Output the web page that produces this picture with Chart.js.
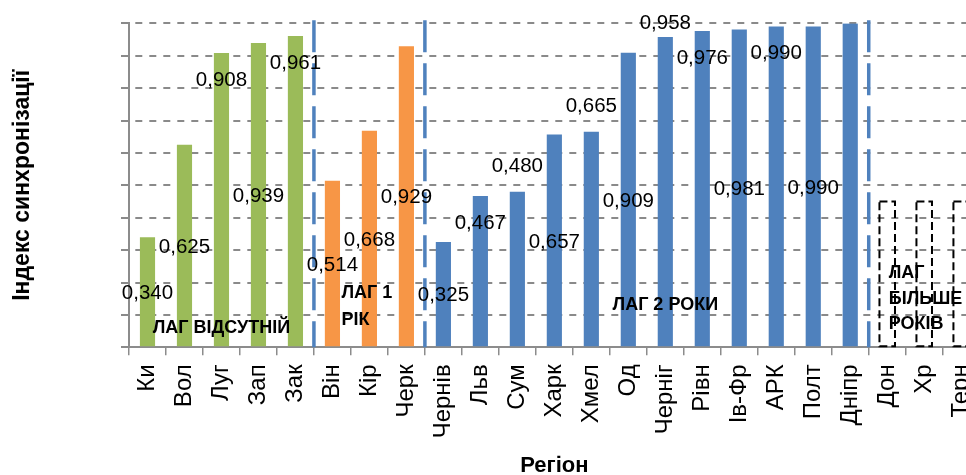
<!DOCTYPE html>
<html lang="uk">
<head>
<meta charset="utf-8">
<script src="https://cdn.jsdelivr.net/npm/chart.js@4.4.1/dist/chart.umd.min.js"></script>
<style>
  html, body { margin: 0; padding: 0; background: #fff; overflow: hidden; }
  #wrap { width: 999px; height: 475px; }
</style>
</head>
<body>
<div id="wrap"><canvas id="lagChart"></canvas></div>
<script>
// Регіони (праворуч обрізано, як в оригіналі)
const regions = ['Ки', 'Вол', 'Луг', 'Зап', 'Зак', 'Він', 'Кір', 'Черк', 'Чернів', 'Льв', 'Сум', 'Харк',
  'Хмел', 'Од', 'Черніг', 'Рівн', 'Ів-Фр', 'АРК', 'Полт', 'Дніпр', 'Дон', 'Хр', 'Терн'];

// Індекс синхронізації
const syncIndex = [0.340, 0.625, 0.908, 0.939, 0.961, 0.514, 0.668, 0.929, 0.325, 0.467, 0.480, 0.657,
  0.665, 0.909, 0.958, 0.976, 0.981, 0.990, 0.990, 0.999, null, null, null];

// Група лагу для кожного регіону (0 - відсутній, 1 - 1 рік, 2 - 2 роки, 3 - більше)
const lagGroup = [0, 0, 0, 0, 0, 1, 1, 1, 2, 2, 2, 2, 2, 2, 2, 2, 2, 2, 2, 2, 3, 3, 3];

// Регіони без даних (пунктирні рамки)
const unknownIndex = [null, null, null, null, null, null, null, null, null, null, null, null,
  null, null, null, null, null, null, null, null, 0.45, 0.45, 0.45];

const lagCaptions = [['ЛАГ ВІДСУТНІЙ'], ['ЛАГ 1', 'РІК'], ['ЛАГ 2 РОКИ'], ['ЛАГ', 'БІЛЬШЕ', 'РОКІВ']];

// стилі
const lagColors = ['#9BBB59', '#F79646', '#4F81BD'];
// де стоїть підпис значення: c - центр стовпця, i - під вершиною, a - над вершиною, t - трохи над, '-' - нема
const labelPlace = ['c', 'c', 'i', 'c', 'i', 'c', 'c', 'c', 'c', 'i', 'a', 'c', 'a', 'c', 't', 'i', 'c', 'i', 'c', '-'];
// положення підписів груп: індекс категорії, значення, вирівнювання, крок рядка
const captionPos = [
  { at: 2, v: 0.06, align: 'center', step: 27 },
  { at: 5.245, v: 0.168, align: 'left', step: 27 },
  { at: 14, v: 0.131, align: 'center', step: 27 },
  { at: 20.04, v: 0.229, align: 'left', step: 25.5 }
];

const datasets = lagColors.map((color, g) => ({
  label: lagCaptions[g].join(' '),
  data: syncIndex.map((v, i) => lagGroup[i] === g ? v : null),
  backgroundColor: color,
  borderWidth: 0,
  grouped: false,
  categoryPercentage: 1,
  barPercentage: 0.41
}));
datasets.push({
  label: lagCaptions[3].join(' '),
  data: unknownIndex,
  backgroundColor: 'rgba(0,0,0,0)',
  borderWidth: 0,
  grouped: false,
  categoryPercentage: 1,
  barPercentage: 0.42
});

const lagPlugin = {
  id: 'lagDecor',
  afterDatasetsDraw(chart) {
    const { ctx, chartArea, scales: { x, y } } = chart;
    ctx.save();

    // пунктирні рамки для регіонів без даних
    ctx.setLineDash([8, 4]);
    ctx.lineWidth = 2;
    ctx.strokeStyle = '#000';
    chart.getDatasetMeta(3).data.forEach((bar, i) => {
      if (unknownIndex[i] == null) return;
      const p = bar.getProps(['x', 'y', 'base', 'width'], true);
      ctx.strokeRect(p.x - p.width / 2, p.y, p.width, p.base - p.y);
    });

    // сині роздільники між групами лагу
    ctx.setLineDash([32, 11]);
    ctx.lineWidth = 3.5;
    ctx.strokeStyle = '#4F81BD';
    for (let i = 1; i < regions.length; i++) {
      if (lagGroup[i] !== lagGroup[i - 1]) {
        const px = x.getPixelForValue(i - 0.5);
        ctx.beginPath();
        ctx.moveTo(px, chartArea.top - 3);
        ctx.lineTo(px, chartArea.bottom);
        ctx.stroke();
      }
    }
    ctx.setLineDash([]);

    // підписи значень
    ctx.fillStyle = '#000';
    ctx.font = '20.5px "Liberation Sans", Arial, sans-serif';
    ctx.textAlign = 'center';
    ctx.textBaseline = 'middle';
    syncIndex.forEach((v, i) => {
      if (v == null || labelPlace[i] === '-') return;
      const bar = chart.getDatasetMeta(lagGroup[i]).data[i];
      const p = bar.getProps(['x', 'y', 'base'], true);
      let ly;
      switch (labelPlace[i]) {
        case 'c': ly = (p.y + p.base) / 2 + 1.5; break;
        case 'i': ly = p.y + 27; break;
        case 'a': ly = p.y - 25; break;
        default: ly = p.y - 14;
      }
      ctx.fillText(v.toFixed(3).replace('.', ','), p.x, ly);
    });

    // назви груп
    ctx.font = 'bold 18px "Liberation Sans", Arial, sans-serif';
    lagCaptions.forEach((lines, g) => {
      const pos = captionPos[g];
      ctx.textAlign = pos.align;
      const px = x.getPixelForValue(pos.at);
      const py = y.getPixelForValue(pos.v);
      lines.forEach((t, k) => ctx.fillText(t, px, py + k * pos.step));
    });

    ctx.restore();
  }
};

new Chart(document.getElementById('lagChart'), {
  type: 'bar',
  data: { labels: regions, datasets: datasets },
  options: {
    responsive: true,
    maintainAspectRatio: false,
    animation: false,
    layout: { padding: { top: 23.3, right: 0, bottom: 0, left: 0 }, autoPadding: false },
    plugins: { legend: { display: false }, tooltip: { enabled: false } },
    scales: {
      x: {
        offset: true,
        grid: { offset: true, drawOnChartArea: false, drawTicks: true, tickLength: 8, color: '#8c8c8c', lineWidth: 1.5 },
        border: { color: '#8c8c8c', width: 2 },
        ticks: {
          autoSkip: false, maxRotation: 90, minRotation: 90, padding: 9, color: '#000',
          font: { family: '"Liberation Sans", Arial, sans-serif', size: 24 }
        },
        title: {
          display: true, text: 'Регіон', color: '#000',
          font: { family: '"Liberation Sans", Arial, sans-serif', size: 22, weight: 'bold', lineHeight: 1 },
          padding: { top: 0, bottom: -1.5 }
        },
        afterFit(scale) { scale.height = 127.7; }
      },
      y: {
        min: 0,
        max: 1,
        ticks: { display: false, stepSize: 0.1 },
        grid: { color: '#8a8a8a', lineWidth: 2, tickLength: 8, tickColor: '#8a8a8a', tickBorderDash: [] },
        border: { color: '#8c8c8c', width: 2, dash: [7, 7], dashOffset: 8.7 },
        title: {
          display: true, text: 'Індекс синхронізації', color: '#000',
          font: { family: '"Liberation Sans", Arial, sans-serif', size: 23, weight: 'bold', lineHeight: 1 },
          padding: { top: 11.5, bottom: 0 }
        },
        afterFit(scale) { scale.width = 129; }
      }
    }
  },
  plugins: [lagPlugin]
});
</script>
</body>
</html>
